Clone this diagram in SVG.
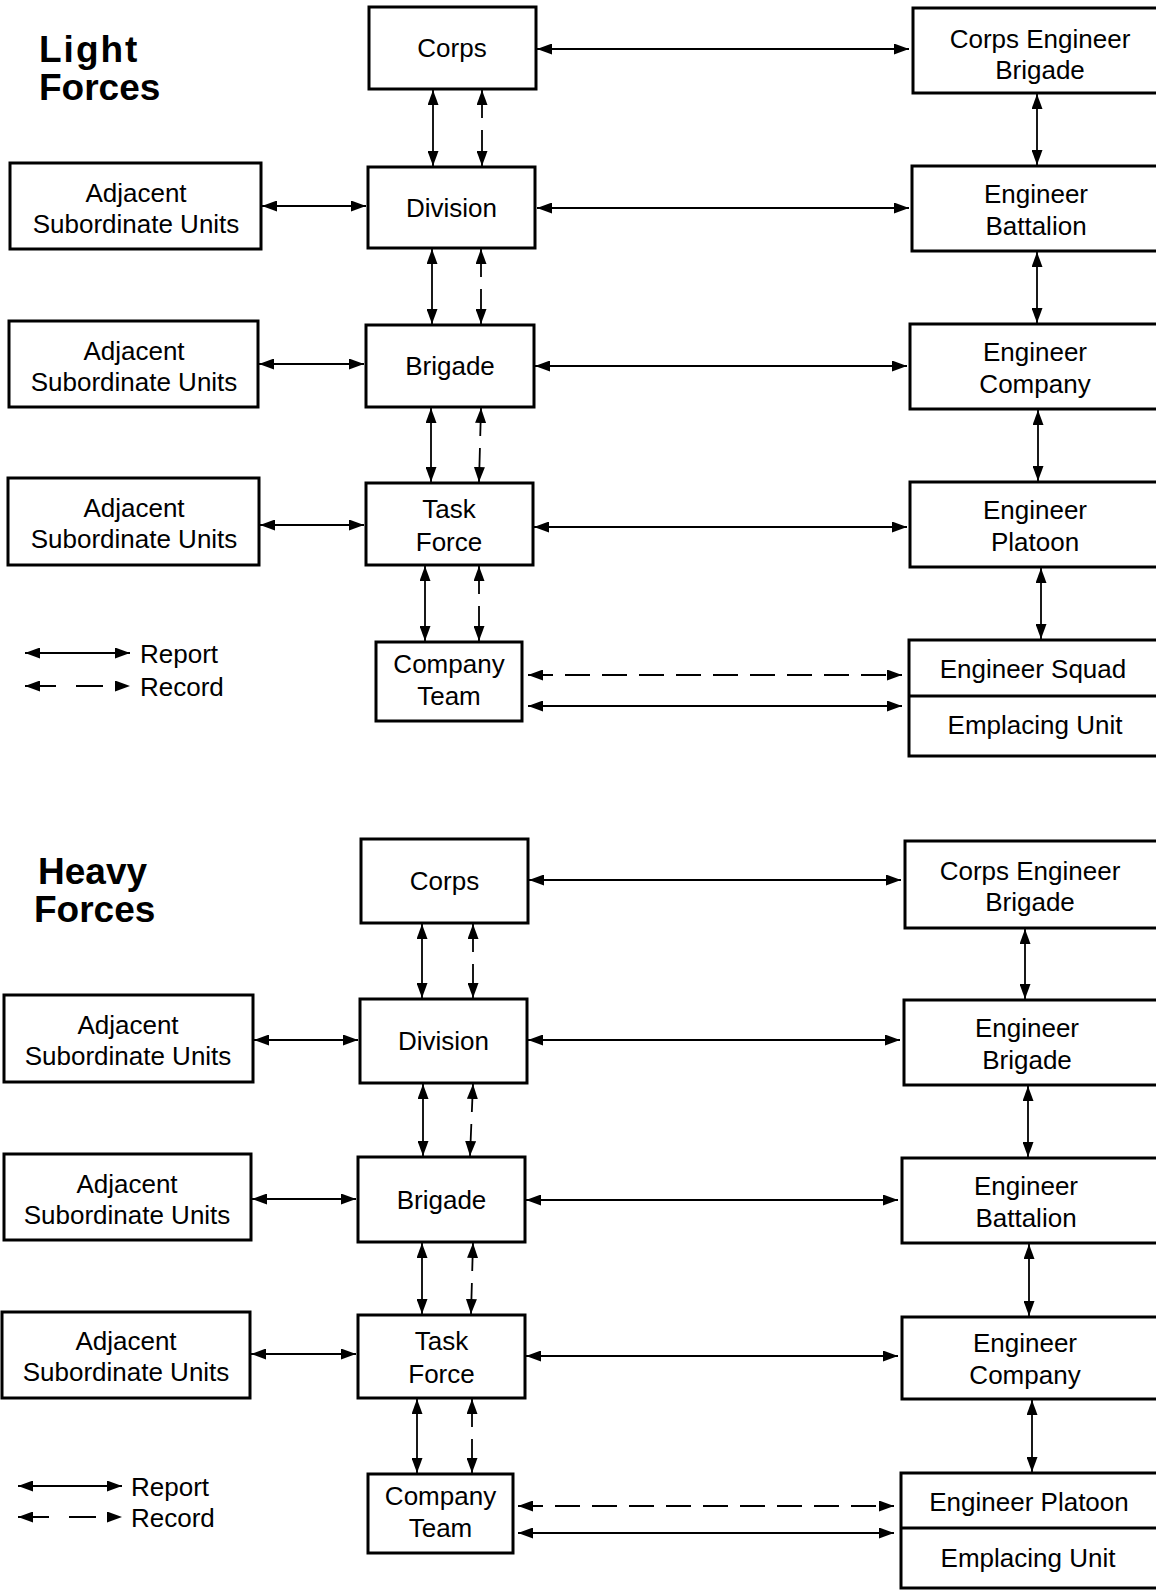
<svg xmlns="http://www.w3.org/2000/svg" width="1156" height="1591" viewBox="0 0 1156 1591">
<style>
.bx{fill:#fff;stroke:#000;stroke-width:3}
.dv{stroke:#000;stroke-width:3}
.t{font-family:"Liberation Sans",Arial,Helvetica,sans-serif;font-size:26px;fill:#000;text-anchor:middle}
.lt{font-family:"Liberation Sans",Arial,Helvetica,sans-serif;font-size:26px;fill:#000}
.ttl{font-family:"Liberation Sans",Arial,Helvetica,sans-serif;font-size:37px;font-weight:bold;fill:#000}
.rep{stroke:#000;stroke-width:1.8;fill:none;marker-start:url(#ah);marker-end:url(#ah)}
.rec{stroke:#000;stroke-width:1.8;fill:none;stroke-dasharray:25 12;marker-start:url(#ah);marker-end:url(#ah)}
.recv{stroke:#000;stroke-width:1.8;fill:none;stroke-dasharray:28 12 200;marker-start:url(#ah);marker-end:url(#ah)}
.recl{stroke:#000;stroke-width:1.8;fill:none;stroke-dasharray:31 20 27 40;marker-start:url(#ah);marker-end:url(#ah)}
</style>
<defs>
<marker id="ah" viewBox="0 0 15 11" refX="15" refY="5.5" markerWidth="15" markerHeight="11" markerUnits="userSpaceOnUse" orient="auto-start-reverse">
<path d="M0,0 L15,5.5 L0,11 z" fill="#000"/>
</marker>
</defs>
<rect width="1156" height="1591" fill="#fff"/>

<!-- Titles and legends -->
<g id="light-title">
<text class="ttl" x="39" y="62" letter-spacing="2">Light</text>
<text class="ttl" x="39" y="100">Forces</text>
</g>
<g id="heavy-title">
<text class="ttl" x="38" y="884">Heavy</text>
<text class="ttl" x="34" y="922">Forces</text>
</g>
<g id="legend-light">
<line class="rep" x1="25" y1="653" x2="130" y2="653"/>
<text class="lt" x="140" y="663">Report</text>
<line class="recl" x1="25" y1="686" x2="130" y2="686"/>
<text class="lt" x="140" y="696">Record</text>
</g>
<g id="legend-heavy">
<line class="rep" x1="18" y1="1486" x2="122" y2="1486"/>
<text class="lt" x="131" y="1496">Report</text>
<line class="recl" x1="18" y1="1517" x2="122" y2="1517"/>
<text class="lt" x="131" y="1527">Record</text>
</g>

<!-- Connectors -->
<g id="connectors">
<!-- Light -->
<line class="rep" x1="537" y1="49" x2="909" y2="49"/>
<line class="rep" x1="433" y1="90" x2="433" y2="166"/>
<line class="recv" x1="482" y1="90" x2="482" y2="166"/>
<line class="rep" x1="1037" y1="94" x2="1037" y2="165"/>
<line class="rep" x1="262" y1="206" x2="366" y2="206"/>
<line class="rep" x1="537" y1="208" x2="909" y2="208"/>
<line class="rep" x1="432" y1="249" x2="432" y2="324"/>
<line class="recv" x1="481" y1="249" x2="481" y2="324"/>
<line class="rep" x1="1037" y1="252" x2="1037" y2="323"/>
<line class="rep" x1="259" y1="364" x2="364" y2="364"/>
<line class="rep" x1="535" y1="366" x2="907" y2="366"/>
<line class="rep" x1="431" y1="408" x2="431" y2="482"/>
<line class="recv" x1="481" y1="408" x2="479" y2="482"/>
<line class="rep" x1="1038" y1="410" x2="1038" y2="481"/>
<line class="rep" x1="260" y1="525" x2="364" y2="525"/>
<line class="rep" x1="534" y1="527" x2="907" y2="527"/>
<line class="rep" x1="425" y1="566" x2="425" y2="641"/>
<line class="recv" x1="479" y1="566" x2="479" y2="641"/>
<line class="rep" x1="1041" y1="568" x2="1041" y2="639"/>
<line class="rec" x1="528" y1="675" x2="902" y2="675"/>
<line class="rep" x1="528" y1="706" x2="902" y2="706"/>
<!-- Heavy -->
<line class="rep" x1="529" y1="880" x2="901" y2="880"/>
<line class="rep" x1="422" y1="924" x2="422" y2="998"/>
<line class="recv" x1="473" y1="924" x2="473" y2="998"/>
<line class="rep" x1="1025" y1="929" x2="1025" y2="999"/>
<line class="rep" x1="254" y1="1040" x2="358" y2="1040"/>
<line class="rep" x1="528" y1="1040" x2="900" y2="1040"/>
<line class="rep" x1="423" y1="1084" x2="423" y2="1156"/>
<line class="recv" x1="473" y1="1084" x2="470" y2="1156"/>
<line class="rep" x1="1028" y1="1086" x2="1028" y2="1157"/>
<line class="rep" x1="252" y1="1199" x2="356" y2="1199"/>
<line class="rep" x1="526" y1="1200" x2="898" y2="1200"/>
<line class="rep" x1="422" y1="1243" x2="422" y2="1314"/>
<line class="recv" x1="473" y1="1243" x2="471" y2="1314"/>
<line class="rep" x1="1029" y1="1244" x2="1029" y2="1316"/>
<line class="rep" x1="251" y1="1354" x2="356" y2="1354"/>
<line class="rep" x1="526" y1="1356" x2="898" y2="1356"/>
<line class="rep" x1="417" y1="1399" x2="417" y2="1473"/>
<line class="recv" x1="472" y1="1399" x2="472" y2="1473"/>
<line class="rep" x1="1032" y1="1400" x2="1032" y2="1472"/>
<line class="rec" x1="518" y1="1506" x2="894" y2="1506"/>
<line class="rep" x1="518" y1="1533" x2="894" y2="1533"/>
</g>

<!-- Light nodes -->
<g id="L-corps"><rect class="bx" x="369" y="7" width="167" height="82"/><text class="t" x="452" y="57">Corps</text></g>
<g id="L-corps-eng-brigade"><rect class="bx" x="913" y="8" width="250" height="85"/><text class="t" x="1040" y="48">Corps Engineer</text><text class="t" x="1040" y="79">Brigade</text></g>
<g id="L-adjacent-1"><rect class="bx" x="10" y="163" width="251" height="86"/><text class="t" x="136" y="202">Adjacent</text><text class="t" x="136" y="233">Subordinate Units</text></g>
<g id="L-division"><rect class="bx" x="368" y="167" width="167" height="81"/><text class="t" x="451.5" y="216.5">Division</text></g>
<g id="L-eng-battalion"><rect class="bx" x="912" y="166" width="250" height="85"/><text class="t" x="1036" y="203">Engineer</text><text class="t" x="1036" y="235">Battalion</text></g>
<g id="L-adjacent-2"><rect class="bx" x="9" y="321" width="249" height="86"/><text class="t" x="134" y="360">Adjacent</text><text class="t" x="134" y="391">Subordinate Units</text></g>
<g id="L-brigade"><rect class="bx" x="366" y="325" width="168" height="82"/><text class="t" x="450" y="375">Brigade</text></g>
<g id="L-eng-company"><rect class="bx" x="910" y="324" width="252" height="85"/><text class="t" x="1035" y="361">Engineer</text><text class="t" x="1035" y="393">Company</text></g>
<g id="L-adjacent-3"><rect class="bx" x="8" y="478" width="251" height="87"/><text class="t" x="134" y="517">Adjacent</text><text class="t" x="134" y="548">Subordinate Units</text></g>
<g id="L-task-force"><rect class="bx" x="366" y="483" width="167" height="82"/><text class="t" x="449" y="518">Task</text><text class="t" x="449" y="551">Force</text></g>
<g id="L-eng-platoon"><rect class="bx" x="910" y="482" width="252" height="85"/><text class="t" x="1035" y="519">Engineer</text><text class="t" x="1035" y="551">Platoon</text></g>
<g id="L-company-team"><rect class="bx" x="376" y="642" width="146" height="79"/><text class="t" x="449" y="673">Company</text><text class="t" x="449" y="705">Team</text></g>
<g id="L-squad-emplacing"><rect class="bx" x="909" y="640" width="253" height="116"/><line class="dv" x1="909" y1="696" x2="1162" y2="696"/><text class="t" x="1033" y="678">Engineer Squad</text><text class="t" x="1035" y="734">Emplacing Unit</text></g>

<!-- Heavy nodes -->
<g id="H-corps"><rect class="bx" x="361" y="839" width="167" height="84"/><text class="t" x="444.5" y="890">Corps</text></g>
<g id="H-corps-eng-brigade"><rect class="bx" x="905" y="841" width="258" height="87"/><text class="t" x="1030" y="880">Corps Engineer</text><text class="t" x="1030" y="911">Brigade</text></g>
<g id="H-adjacent-1"><rect class="bx" x="4" y="995" width="249" height="87"/><text class="t" x="128" y="1034">Adjacent</text><text class="t" x="128" y="1065">Subordinate Units</text></g>
<g id="H-division"><rect class="bx" x="360" y="999" width="167" height="84"/><text class="t" x="443.5" y="1050">Division</text></g>
<g id="H-eng-brigade"><rect class="bx" x="904" y="1000" width="258" height="85"/><text class="t" x="1027" y="1037">Engineer</text><text class="t" x="1027" y="1069">Brigade</text></g>
<g id="H-adjacent-2"><rect class="bx" x="4" y="1154" width="247" height="86"/><text class="t" x="127" y="1193">Adjacent</text><text class="t" x="127" y="1224">Subordinate Units</text></g>
<g id="H-brigade"><rect class="bx" x="358" y="1157" width="167" height="85"/><text class="t" x="441.5" y="1208.5">Brigade</text></g>
<g id="H-eng-battalion"><rect class="bx" x="902" y="1158" width="260" height="85"/><text class="t" x="1026" y="1195">Engineer</text><text class="t" x="1026" y="1227">Battalion</text></g>
<g id="H-adjacent-3"><rect class="bx" x="2" y="1312" width="248" height="86"/><text class="t" x="126" y="1350">Adjacent</text><text class="t" x="126" y="1381">Subordinate Units</text></g>
<g id="H-task-force"><rect class="bx" x="358" y="1315" width="167" height="83"/><text class="t" x="441.5" y="1350">Task</text><text class="t" x="441.5" y="1383">Force</text></g>
<g id="H-eng-company"><rect class="bx" x="902" y="1317" width="260" height="82"/><text class="t" x="1025" y="1352">Engineer</text><text class="t" x="1025" y="1384">Company</text></g>
<g id="H-company-team"><rect class="bx" x="368" y="1474" width="145" height="79"/><text class="t" x="440.5" y="1505">Company</text><text class="t" x="440.5" y="1537">Team</text></g>
<g id="H-platoon-emplacing"><rect class="bx" x="901" y="1473" width="261" height="115"/><line class="dv" x1="901" y1="1528" x2="1162" y2="1528"/><text class="t" x="1029" y="1511">Engineer Platoon</text><text class="t" x="1028" y="1567">Emplacing Unit</text></g>
</svg>
